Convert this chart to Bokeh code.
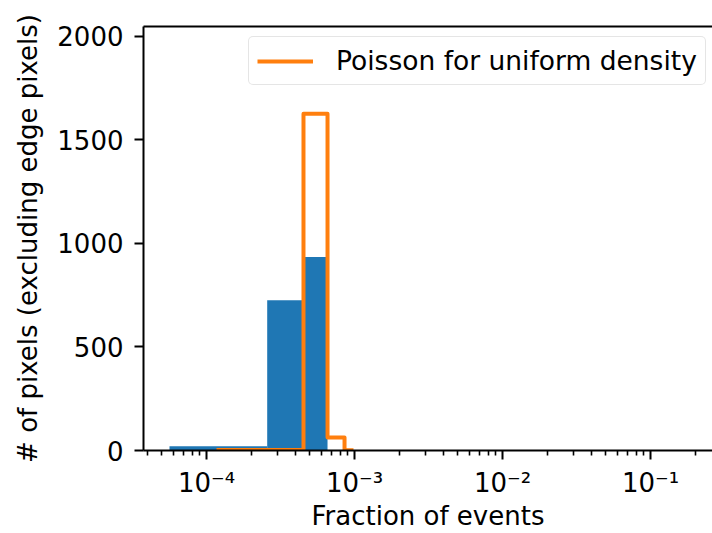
from bokeh.plotting import figure
from bokeh.models import (Range1d, FixedTicker, CustomJSTickFormatter, LinearAxis,
                          Legend, LegendItem)
from bokeh.embed import file_html
from bokeh.resources import INLINE

# ---- data ----
blue_edges = [5.62e-5, 2.57e-4, 4.52e-4, 6.57e-4]
blue_counts = [20, 725, 934]

poisson_edges = [1.168e-4, 4.52e-4, 6.57e-4, 8.56e-4, 9.84e-4]
poisson_counts = [2, 1625, 63, 1]

x_major_ticks = [1e-4, 1e-3, 1e-2, 1e-1]
y_ticks = [0, 500, 1000, 1500, 2000]

legend_text = "Poisson for uniform density"
x_label = "Fraction of events"
y_label = "# of pixels (excluding edge pixels)"

FONT = "DejaVu Sans"
FS = "26px"
BLUE = "#1f77b4"
ORANGE = "#ff7f0e"

x_minor_ticks = [m * 10.0 ** k for k in range(-5, 0) for m in range(2, 10)]

p = figure(width=712, height=533, x_axis_type="log",
           x_range=Range1d(3.75e-5, 0.2624), y_range=Range1d(0, 2046),
           output_backend="svg", toolbar_location=None,
           min_border_left=143, min_border_right=0,
           min_border_top=26, min_border_bottom=83)
p.outline_line_color = None
p.xgrid.grid_line_color = None
p.ygrid.grid_line_color = None
p.background_fill_color = "white"
p.border_fill_color = "white"

# histogram bars
p.quad(left=blue_edges[:-1], right=blue_edges[1:], bottom=0, top=blue_counts,
       fill_color=BLUE, line_color=None)

# poisson step line
step_x = poisson_edges
step_y = poisson_counts + [poisson_counts[-1]]
r = p.step(step_x, step_y, mode="after", line_color=ORANGE, line_width=4,
           line_join="round")

# axes
xa = p.xaxis[0]
xa.ticker = FixedTicker(ticks=x_major_ticks, minor_ticks=x_minor_ticks)
xa.formatter = CustomJSTickFormatter(code="""
const sup = {"-":"\u207b","0":"\u2070","1":"\u00b9","2":"\u00b2","3":"\u00b3",
             "4":"\u2074","5":"\u2075","6":"\u2076","7":"\u2077","8":"\u2078","9":"\u2079"};
const e = Math.round(Math.log10(tick));
return "10" + String(e).split("").map(c => sup[c]).join("");
""")
xa.axis_label = x_label
ya = p.yaxis[0]
ya.ticker = FixedTicker(ticks=y_ticks)
ya.minor_tick_line_color = None
ya.axis_label = y_label

for ax in (xa, ya):
    ax.axis_line_color = "black"
    ax.axis_line_width = 2
    ax.major_tick_line_color = "black"
    ax.major_tick_line_width = 2
    ax.major_tick_in = 0
    ax.major_tick_out = 9
    ax.minor_tick_in = 0
    ax.minor_tick_out = 5
    ax.minor_tick_line_width = 1.6
    ax.major_label_text_font = FONT
    ax.major_label_text_font_size = FS
    ax.major_label_text_color = "black"
    ax.axis_label_text_font = FONT
    ax.axis_label_text_font_size = FS
    ax.axis_label_text_font_style = "normal"
    ax.axis_label_text_color = "black"
xa.major_label_standoff = 8
xa.axis_label_standoff = 0
ya.major_label_standoff = 11
ya.axis_label_standoff = 11

# top spine
top = LinearAxis(ticker=FixedTicker(ticks=[]), axis_line_color="black",
                 axis_line_width=2, major_tick_line_color=None,
                 minor_tick_line_color=None)
p.add_layout(top, "above")

legend = Legend(items=[LegendItem(label=legend_text, renderers=[r])],
                location=(105, 365), margin=0, padding=8, spacing=0,
                glyph_width=56, glyph_height=28, label_height=28,
                label_standoff=23, label_text_font=FONT,
                label_text_font_size="26.5px", label_text_color="black",
                border_line_color="#cccccc", border_line_width=1.5,
                background_fill_color="white", background_fill_alpha=0.8)
if "border_radius" in Legend.properties():
    legend.border_radius = 5
p.add_layout(legend, "center")

open("out.html", "w").write(file_html(p, INLINE))
